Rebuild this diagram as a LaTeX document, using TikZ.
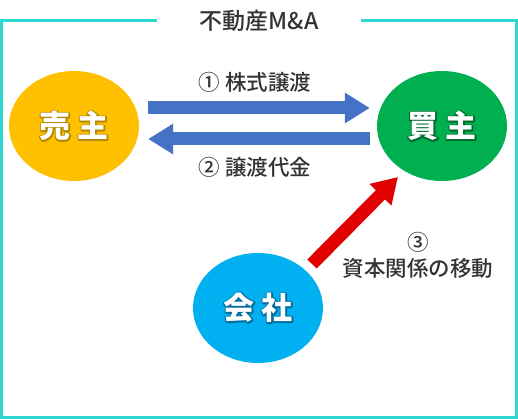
\documentclass[tikz,border=0pt]{standalone}
\usepackage{fontspec}
\setmainfont{Noto Sans CJK JP}
\newfontfamily\mittel{Noto Sans CJK JP Medium}
\usetikzlibrary{shapes.geometric, arrows.meta}
\definecolor{tuerkis}{HTML}{2ED8D0}
\definecolor{gelb}{HTML}{FFC000}
\definecolor{gelbdunkel}{HTML}{B88A00}
\definecolor{gruen}{HTML}{00B050}
\definecolor{gruendunkel}{HTML}{006B2E}
\definecolor{hellblau}{HTML}{00B0F0}
\definecolor{blaudunkel}{HTML}{006E9E}
\definecolor{pfeilblau}{HTML}{4472C4}
\definecolor{pfeilrot}{HTML}{E00000}
\definecolor{schrift}{HTML}{333333}
% Umriss um weisse Schrift
\newcommand\umriss[2]{\rlap{\color{#1}\special{pdf:literal direct 2 Tr 2.8 w 1 j}#2\special{pdf:literal direct 0 Tr 1 w}}#2}

\begin{document}
\begin{tikzpicture}[x=1pt, y=-1pt,
			partei/.style={ellipse, minimum width=130pt, minimum height=110pt, inner sep=0pt, text=white, font=\fontsize{31}{31}\selectfont\bfseries},
			pfeil/.style={line width=13pt, -{Triangle[length=25pt,width=29pt]}},
			beschriftung/.style={text=schrift, font=\mittel\fontsize{21.5}{26}\selectfont, align=center},
			rahmen/.style={draw=tuerkis, line width=3pt}]
			%Bildbereich
			\useasboundingbox (0,0) rectangle (518,419);
			% Titel und Rahmen
			\node[beschriftung, font=\mittel\fontsize{23}{26}\selectfont, minimum width=204pt] (titel) at (259,21) {不動産M\&A};
			\draw[rahmen] (titel.west) -| (1.5,417.5) -| (516.5,21) -- (titel.east);
			% Parteien
			\node[partei, fill=gelb] (verkaeufer) at (74,126) {\umriss{gelbdunkel}{売 主}};
			\node[partei, fill=gruen] (kaeufer) at (442,126) {\umriss{gruendunkel}{買 主}};
			\node[partei, fill=hellblau] (gesellschaft) at (258,308) {\umriss{blaudunkel}{会 社}};
			% Pfeile
			\draw[pfeil, pfeilblau] ([xshift=9pt,yshift=18pt]verkaeufer.east) -- ([xshift=-7pt,yshift=18pt]kaeufer.west);
			\draw[pfeil, pfeilblau] ([xshift=-7pt,yshift=-13pt]kaeufer.west) -- ([xshift=9pt,yshift=-13pt]verkaeufer.east);
			\draw[pfeil, pfeilrot] ([xshift=54pt,yshift=44pt]gesellschaft.center) -- ([xshift=-44pt,yshift=-51pt]kaeufer.center);
			% Beschriftung
			\node[beschriftung] (aktien) at (255,82) {① 株式譲渡};
			\node[beschriftung] (preis) at (255,167) {② 譲渡代金};
			\node[beschriftung] (kapital) at (418,255) {③\\資本関係の移動};
		\end{tikzpicture}
\end{document}
